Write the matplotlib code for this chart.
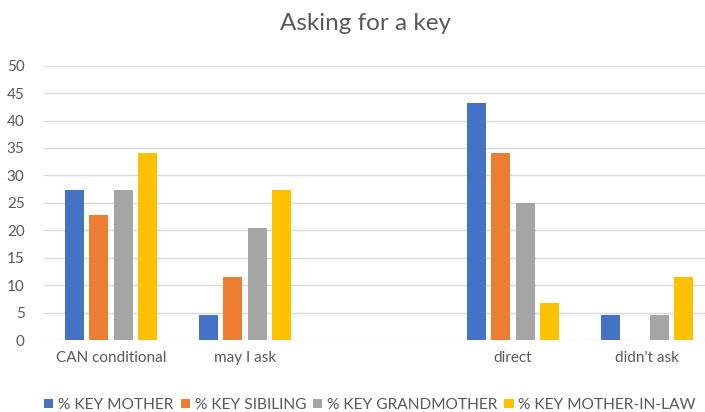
import matplotlib
matplotlib.use("Agg")
import matplotlib.pyplot as plt
import numpy as np

categories = ["CAN conditional", "may I ask", "", "direct", "didn't ask"]
series_names = ["% KEY MOTHER", "% KEY SIBILING", "% KEY GRANDMOTHER", "% KEY MOTHER-IN-LAW"]
mother = [27.3, 4.5, 0, 43.2, 4.5]
sibling = [22.7, 11.4, 0, 34.1, 0]
grandmother = [27.3, 20.5, 0, 25.0, 4.5]
mother_in_law = [34.1, 27.3, 0, 6.8, 11.4]
colors = ["#4472C4", "#ED7D31", "#A5A5A5", "#FFC000"]
yticks = [0, 5, 10, 15, 20, 25, 30, 35, 40, 45, 50]

plt.rcParams['font.family'] = ['Lato', 'DejaVu Sans']
txt = "#595959"

fig = plt.figure(figsize=(7.05, 4.12), dpi=100)
ax = fig.add_axes([44/705, 72/412, 670/705, (340-65.7)/412])

x = np.arange(len(categories))
stride = 0.182
width = 0.142
all_series = [mother, sibling, grandmother, mother_in_law]
for i, (vals, name, c) in enumerate(zip(all_series, series_names, colors)):
    ax.bar(x + (i - 1.5) * stride, vals, width=width, color=c, label=name, zorder=3)

ax.set_xlim(-0.5, len(categories) - 0.5)
ax.set_ylim(0, 50)
ax.set_yticks(yticks)
ax.set_xticks(x)
ax.set_xticklabels(categories)
ax.grid(axis='y', color='#D9D9D9', linewidth=1.0, zorder=0)
for s in ax.spines.values():
    s.set_visible(False)
ax.tick_params(axis='both', length=0, colors=txt, labelsize=11)
ax.tick_params(axis='y', pad=14)
ax.tick_params(axis='x', pad=8)

fig.text(366/705, 1 - 24/412, "Asking for a key", ha='center', va='center', fontsize=17.5, color=txt)

handles, labels = ax.get_legend_handles_labels()
leg = fig.legend(handles, labels, loc='center', bbox_to_anchor=(370/705, 7/412), ncol=4,
                 frameon=False, fontsize=11.2, handlelength=0.6, handleheight=0.6,
                 handletextpad=0.3, columnspacing=0.45, borderaxespad=0)
for t in leg.get_texts():
    t.set_color(txt)

fig.savefig("out.png", dpi=100)
